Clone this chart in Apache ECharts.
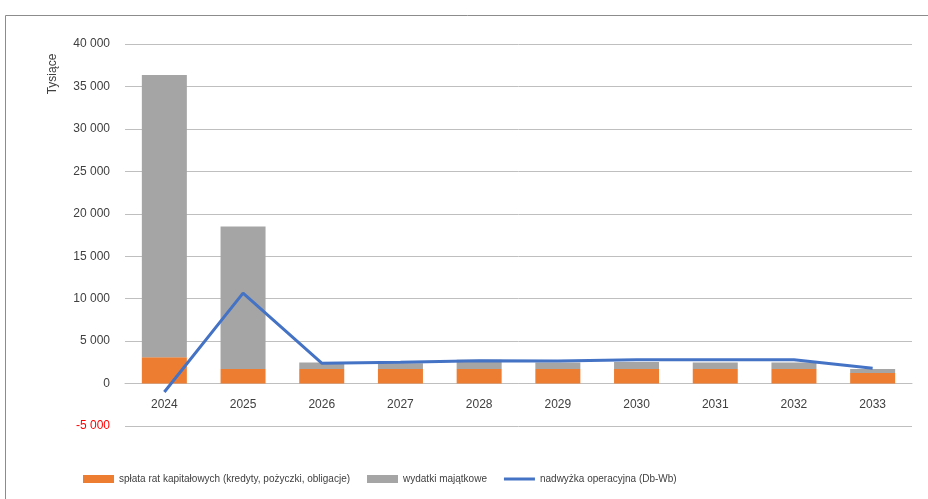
<!DOCTYPE html>
<html>
<head>
<meta charset="utf-8">
<script src="https://cdn.jsdelivr.net/npm/echarts@6/dist/echarts.min.js"></script>
<style>
  html, body { margin: 0; padding: 0; background: #fff; }
  #main { width: 928px; height: 499px; }
</style>
</head>
<body>
<div id="main"></div>
<script>
const years = ['2024', '2025', '2026', '2027', '2028', '2029', '2030', '2031', '2032', '2033']
const splata = [3100, 1700, 1700, 1700, 1700, 1700, 1700, 1700, 1700, 1250]
const wydatki = [33250, 16800, 780, 700, 1100, 780, 850, 780, 780, 450]
const nadwyzka = [-1000, 10650, 2400, 2500, 2700, 2650, 2800, 2800, 2800, 1800]

const seriesNames = [
    'spłata rat kapitałowych (kredyty, pożyczki, obligacje)',
    'wydatki majątkowe',
    'nadwyżka operacyjna (Db-Wb)'
]

const font = "'Liberation Sans', Arial, sans-serif"

const chartDom = document.getElementById('main')
const myChart = echarts.init(chartDom)

function fmt(v) {
    const s = String(Math.abs(v)).replace(/\B(?=(\d{3})+(?!\d))/g, ' ')
    return (v < 0 ? '-' : '') + s
}

// grid: top 44, bottom 426 -> zero line sits 1/9 of the height above the bottom
const gridTop = 44
const gridBottom = 73
const zeroShift = (499 - gridTop - gridBottom) / 9

const option = {
    animation: false,
    textStyle: { fontFamily: font },
    graphic: [
        {
            type: 'rect',
            shape: { x: 5.5, y: 15.5, width: 1000, height: 1000 },
            style: { fill: 'none', stroke: '#8c8c8c', lineWidth: 1 }
        },
        {
            type: 'text',
            x: 53,
            y: 74,
            rotation: Math.PI / 2,
            style: {
                text: 'Tysiące',
                fontFamily: font,
                fontSize: 12,
                fill: '#404040',
                align: 'center',
                verticalAlign: 'middle'
            }
        }
    ],
    legend: {
        left: 78,
        top: 469,
        itemWidth: 31,
        itemHeight: 8,
        itemGap: 17,
        textStyle: { fontFamily: font, fontSize: 10, color: '#404040' },
        data: [
            { name: seriesNames[0], icon: 'rect' },
            { name: seriesNames[1], icon: 'rect' },
            { name: seriesNames[2], icon: 'path://M0,0h31v3h-31z' }
        ]
    },
    grid: {
        left: 125,
        right: 16,
        top: gridTop,
        bottom: gridBottom
    },
    xAxis: {
        type: 'category',
        data: years,
        offset: -zeroShift,
        axisTick: { show: false },
        axisLine: { onZero: false, lineStyle: { color: '#bfbfbf' } },
        axisLabel: { color: '#404040', fontSize: 12, margin: 15 }
    },
    yAxis: {
        type: 'value',
        min: -5000,
        max: 40000,
        interval: 5000,
        axisLine: { show: false },
        axisTick: { show: false },
        splitLine: { lineStyle: { color: '#bfbfbf' } },
        axisLabel: {
            fontSize: 12,
            margin: 15,
            formatter: v => fmt(v),
            color: v => (Number(v) < 0 ? '#ff0000' : '#404040')
        }
    },
    series: [
        {
            name: seriesNames[0],
            type: 'bar',
            stack: 'w',
            barWidth: 45,
            data: splata,
            itemStyle: { color: '#ED7D31' }
        },
        {
            name: seriesNames[1],
            type: 'bar',
            stack: 'w',
            barWidth: 45,
            data: wydatki,
            itemStyle: { color: '#A5A5A5' }
        },
        {
            name: seriesNames[2],
            type: 'line',
            data: nadwyzka,
            symbol: 'none',
            lineStyle: { color: '#4472C4', width: 3 },
            itemStyle: { color: '#4472C4' },
            z: 5
        }
    ]
}

myChart.setOption(option)
</script>
</body>
</html>
